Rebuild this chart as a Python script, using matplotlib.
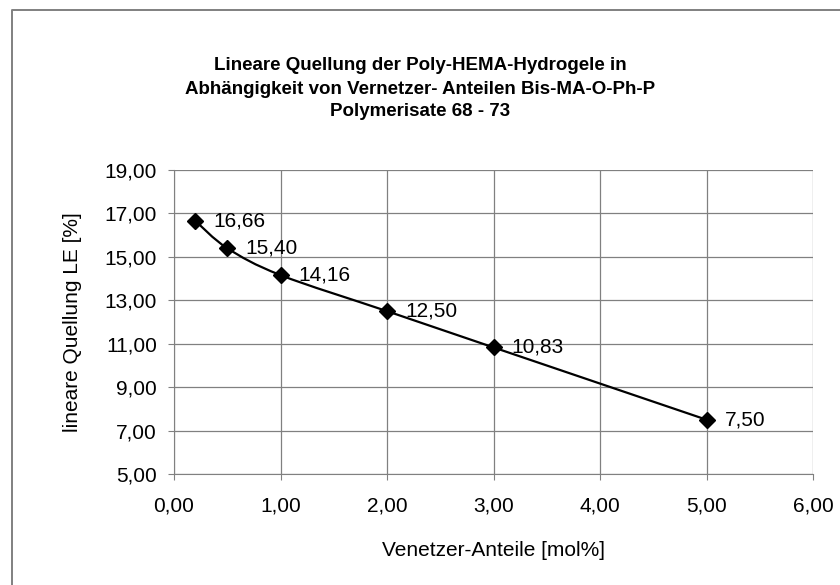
import numpy as np
import matplotlib.pyplot as plt
from matplotlib.path import Path
from matplotlib.patches import PathPatch
from matplotlib.lines import Line2D

plt.rcParams['font.family'] = ['Liberation Sans', 'DejaVu Sans']

# data
x_vals = [0.2, 0.5, 1.0, 2.0, 3.0, 5.0]
y_vals = [16.66, 15.40, 14.16, 12.50, 10.83, 7.50]
x_ticks = [0, 1, 2, 3, 4, 5, 6]
y_ticks = [5, 7, 9, 11, 13, 15, 17, 19]
title_lines = ['Lineare Quellung der Poly-HEMA-Hydrogele in',
               'Abhängigkeit von Vernetzer- Anteilen Bis-MA-O-Ph-P',
               'Polymerisate 68 - 73']


def fmt(v):
    return f"{v:.2f}".replace(".", ",")


def smooth_path(xs, ys, t=1/6):
    # bezier smoothing like a spreadsheet "smoothed line"
    pts = np.column_stack([xs, ys])
    n = len(pts)
    verts = [pts[0]]
    codes = [Path.MOVETO]
    for i in range(n - 1):
        p0 = pts[i - 1] if i > 0 else pts[i]
        p1 = pts[i]
        p2 = pts[i + 1]
        p3 = pts[i + 2] if i + 2 < n else pts[i + 1]
        c1 = p1 + (p2 - p0) * t
        c2 = p2 - (p3 - p1) * t
        verts += [c1, c2, p2]
        codes += [Path.CURVE4] * 3
    return Path(verts, codes)


fig = plt.figure(figsize=(8.4, 5.85), dpi=100)
# chart border (only top and left edges are inside the picture)
fig.add_artist(Line2D([12/840, 12/840, 1.0], [0.0, 1 - 10/585, 1 - 10/585],
                      transform=fig.transFigure, color='#808080', linewidth=1.4))

ax = fig.add_axes([174/840, 111/585, 639/840, 304/585])
ax.set_xlim(0, 6)
ax.set_ylim(5, 19)
ax.set_xticks(x_ticks)
ax.set_yticks(y_ticks)
ax.set_xticklabels([fmt(v) for v in x_ticks], fontsize=15)
ax.set_yticklabels([fmt(v) for v in y_ticks], fontsize=15)
ax.grid(True, color='#808080', linewidth=0.9)
ax.set_axisbelow(True)
for s in ['top', 'right']:
    ax.spines[s].set_visible(False)
for s in ['left', 'bottom']:
    ax.spines[s].set_color('#808080')
ax.tick_params(direction='out', length=4.3, color='#808080')
ax.tick_params(axis='x', pad=12)
ax.tick_params(axis='y', pad=8)

# smoothed line in data coordinates
ax.add_patch(PathPatch(smooth_path(np.array(x_vals, float), np.array(y_vals, float)),
                       fill=False, edgecolor='black', linewidth=1.6, transform=ax.transData))
ax.plot(x_vals, y_vals, linestyle='none', marker='D', markersize=8.5, color='black')

for xv, yv in zip(x_vals, y_vals):
    ax.annotate(fmt(yv), (xv, yv), xytext=(13, 0), textcoords='offset points',
                fontsize=15, va='center', ha='left')

ax.set_xlabel('Venetzer-Anteile [mol%]', fontsize=15, va='center')
ax.xaxis.set_label_coords(0.5, (474 - 550) / 304)
ax.set_ylabel('lineare Quellung LE [%]', fontsize=15, va='center')
ax.yaxis.set_label_coords((73 - 174) / 639, 0.5)

for line, ypix in zip(title_lines, [66, 89, 111]):
    fig.text(0.5, 1 - ypix / 585, line, ha='center', va='center',
             fontsize=13.5, fontweight='bold')

fig.savefig('out.png', dpi=100)
